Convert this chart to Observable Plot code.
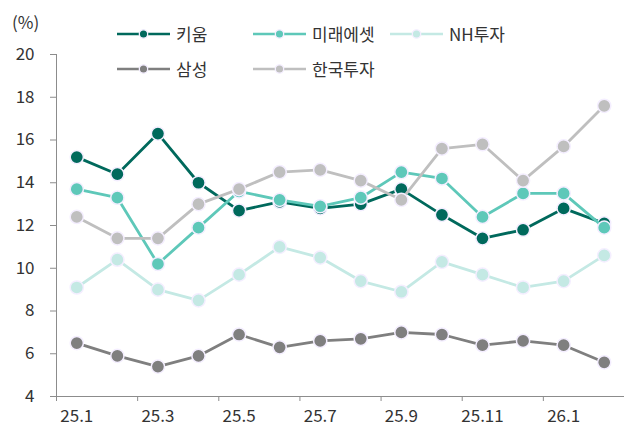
<!DOCTYPE html>
<html><head><meta charset="utf-8">
<script src="https://cdn.jsdelivr.net/npm/d3@7"></script>
<script src="https://cdn.jsdelivr.net/npm/@observablehq/plot@0.6"></script>
<style>
body{margin:0;background:#fff;}
#wrap{position:relative;width:628px;height:427px;font-family:"Noto Sans CJK KR","Noto Sans",sans-serif;color:#333;}
#unit{position:absolute;left:12px;top:9px;font-size:17px;line-height:26px;z-index:2;}
.leg{position:absolute;display:flex;align-items:center;font-size:17px;line-height:20px;height:20px;z-index:2;}
.leg svg{margin-right:6px;}
#wrap > svg.plot, #wrap > svg{position:absolute;left:0;top:0;}
</style></head><body><div id="wrap"><div id="unit">(%)</div></div>
<script>
const months = ["25.1","25.2","25.3","25.4","25.5","25.6","25.7","25.8","25.9","25.10","25.11","25.12","26.1","26.2"];
const seriesNames = ["키움","미래에셋","NH투자","삼성","한국투자"];
const kiwoom   = [15.2, 14.4, 16.3, 14.0, 12.7, 13.1, 12.8, 13.0, 13.7, 12.5, 11.4, 11.8, 12.8, 12.1];
const mirae    = [13.7, 13.3, 10.2, 11.9, 13.6, 13.2, 12.9, 13.3, 14.5, 14.2, 12.4, 13.5, 13.5, 11.9];
const nh       = [9.1, 10.4, 9.0, 8.5, 9.7, 11.0, 10.5, 9.4, 8.9, 10.3, 9.7, 9.1, 9.4, 10.6];
const samsung  = [6.5, 5.9, 5.4, 5.9, 6.9, 6.3, 6.6, 6.7, 7.0, 6.9, 6.4, 6.6, 6.4, 5.6];
const korea    = [12.4, 11.4, 11.4, 13.0, 13.7, 14.5, 14.6, 14.1, 13.2, 15.6, 15.8, 14.1, 15.7, 17.6];
const yTicks = [4, 6, 8, 10, 12, 14, 16, 18, 20];
const xLabelIdx = [0, 2, 4, 6, 8, 10, 12];
const colors = ["#00695c", "#5ec8b9", "#c4e9e4", "#7f7f7f", "#bfbfbf"];

const allValues = [kiwoom, mirae, nh, samsung, korea];
const series = seriesNames.map((name, s) => ({
  name, color: colors[s],
  data: allValues[s].map((v, i) => ({i, v, month: months[i], name}))
}));

const fontFamily = '"Noto Sans CJK KR","Noto Sans",sans-serif';
const marks = [
  Plot.ruleY([4], {stroke: "#8c8c8c", strokeWidth: 1}),
  Plot.ruleX([-0.5], {stroke: "#8c8c8c", strokeWidth: 1}),
  Plot.axisY({ticks: yTicks, tickSize: 6, tickPadding: 16, stroke: "#8c8c8c", fill: "#333", fontSize: 17, tickFormat: d => d, label: null}),
  Plot.axisX({ticks: xLabelIdx.map(i => i - 0.5), tickSize: 5, stroke: "#8c8c8c", tickFormat: () => "", label: null}),
  Plot.axisX({ticks: xLabelIdx, tickSize: 0, tickPadding: 13, fill: "#333", fontSize: 17, tickFormat: i => months[i], label: null})
];
for (const s of series) {
  marks.push(Plot.line(s.data, {x: "i", y: "v", stroke: s.color, strokeWidth: 2.8}));
  marks.push(Plot.dot(s.data, {x: "i", y: "v", fill: s.color, stroke: "#f4eeff", strokeWidth: 1.5, r: 6.6}));
}

const chart = Plot.plot({
  width: 628, height: 427,
  marginLeft: 56, marginRight: 4, marginTop: 54, marginBottom: 31,
  x: {type: "linear", domain: [-0.5, 13.5], label: null},
  y: {domain: [4, 20], label: null},
  style: {fontFamily, fontSize: "17px", color: "#333", background: "transparent"},
  marks
});
const wrap = document.getElementById("wrap");
wrap.appendChild(chart);

// legend
const legPos = [[117, 34], [253, 34], [390, 34], [117, 69], [253, 69]];
series.forEach((s, k) => {
  const [lx, ly] = legPos[k];
  const d = document.createElement("div");
  d.className = "leg";
  d.style.left = lx + "px";
  d.style.top = (ly - 10) + "px";
  d.innerHTML = `<svg width="53" height="12"><line x1="0" x2="53" y1="6" y2="6" stroke="${s.color}" stroke-width="2.6"/><circle cx="26.5" cy="6" r="4.2" fill="${s.color}" stroke="#f4eeff" stroke-width="1.3"/></svg><span>${s.name}</span>`;
  wrap.appendChild(d);
});
</script></body></html>
